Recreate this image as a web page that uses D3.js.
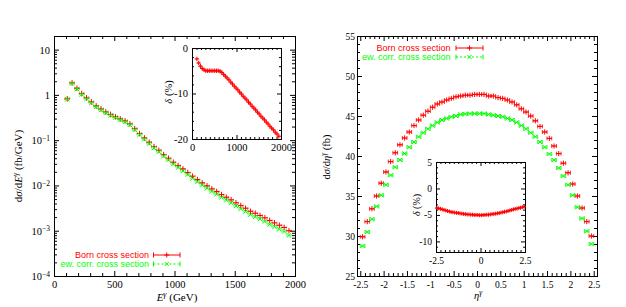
<!DOCTYPE html>
<html>
<head>
<meta charset="utf-8">
<script src="https://cdn.jsdelivr.net/npm/d3@7/dist/d3.min.js"></script>
<style>
html,body{margin:0;padding:0;background:#fff;}
svg{display:block;}
</style>
</head>
<body>
<svg id="chart" width="626" height="307"></svg>
<script>
// ---------------- data ----------------
const energies = [110,150,190,230,270,310,350,390,430,470,510,550,590,630,670,710,750,790,830,870,910,950,990,1030,1070,1110,1150,1190,1230,1270,1310,1350,1390,1430,1470,1510,1550,1590,1630,1670,1710,1750,1790,1830,1870,1910,1950];
const bornE = [0.82,1.84,1.40,1.07,0.86,0.70,0.57,0.49,0.42,0.37,0.33,0.295,0.267,0.229,0.180,0.140,0.112,0.090,0.0722,0.0598,0.0481,0.0398,0.0325,0.0275,0.0232,0.0193,0.0160,0.0135,0.0114,0.00979,0.00841,0.00733,0.00629,0.00549,0.00481,0.00413,0.00360,0.00314,0.00269,0.00243,0.00217,0.00193,0.00168,0.00149,0.00132,0.00118,0.00100];
const ewE = [0.80,1.78,1.344,1.022,0.819,0.665,0.542,0.466,0.399,0.352,0.314,0.280,0.254,0.2175,0.170,0.132,0.105,0.0841,0.0671,0.0553,0.0443,0.0365,0.0296,0.0250,0.0209,0.01735,0.0143,0.0120,0.0101,0.00862,0.00738,0.00639,0.00546,0.00474,0.00413,0.00353,0.00306,0.00266,0.00226,0.00203,0.00181,0.00160,0.00138,0.00122,0.00108,0.00096,0.00079];
const deltaE = [-2.4,-3.3,-4.0,-4.5,-4.8,-5.0,-5.0,-5.0,-5.0,-5.0,-5.0,-5.0,-5.0,-5.1,-5.4,-5.8,-6.2,-6.6,-7.0,-7.5,-7.9,-8.4,-8.8,-9.2,-9.7,-10.1,-10.6,-11.0,-11.4,-11.9,-12.3,-12.8,-13.2,-13.6,-14.1,-14.5,-15.0,-15.4,-15.8,-16.3,-16.7,-17.2,-17.6,-18.0,-18.5,-18.9,-19.4];

const etas = [-2.45,-2.35,-2.25,-2.15,-2.05,-1.95,-1.85,-1.75,-1.65,-1.55,-1.45,-1.35,-1.25,-1.15,-1.05,-0.95,-0.85,-0.75,-0.65,-0.55,-0.45,-0.35,-0.25,-0.15,-0.05,0.05,0.15,0.25,0.35,0.45,0.55,0.65,0.75,0.85,0.95,1.05,1.15,1.25,1.35,1.45,1.55,1.65,1.75,1.85,1.95,2.05,2.15,2.25,2.35,2.45];
const bornEta = [29.9,31.8,33.4,35.0,36.6,38.0,39.3,40.4,41.4,42.25,43.0,43.8,44.5,45.1,45.6,46.1,46.5,46.75,47.0,47.2,47.4,47.5,47.6,47.6,47.7,47.7,47.7,47.5,47.5,47.3,47.2,47.0,46.75,46.4,45.9,45.5,45.0,44.4,43.7,43.0,42.2,41.25,40.3,39.1,37.9,36.5,35.0,33.5,31.8,30.0];
const ewEta = [28.75,30.5,32.1,33.7,35.1,36.4,37.6,38.6,39.5,40.3,41.1,41.75,42.4,42.9,43.4,43.8,44.2,44.5,44.7,44.9,45.0,45.2,45.25,45.3,45.3,45.3,45.3,45.2,45.1,45.0,44.9,44.7,44.5,44.2,43.8,43.4,42.9,42.4,41.75,41.1,40.25,39.5,38.5,37.5,36.4,35.1,33.6,32.2,30.6,29.0];
const deltaEta = [-3.7,-3.75,-3.85,-3.95,-4.05,-4.15,-4.25,-4.35,-4.45,-4.5,-4.55,-4.6,-4.65,-4.7,-4.75,-4.8,-4.85,-4.9,-4.9,-4.95,-4.95,-5.0,-5.0,-5.0,-5.05,-5.05,-5.0,-5.0,-4.95,-4.95,-4.9,-4.85,-4.8,-4.75,-4.7,-4.65,-4.55,-4.5,-4.4,-4.35,-4.25,-4.15,-4.05,-3.95,-3.85,-3.8,-3.7,-3.65,-3.55,-3.45];

const eTicks = [0,500,1000,1500,2000];
const eLogTicks = [1e-4,1e-3,1e-2,1e-1,1,10];
const eInsetXTicks = [0,1000,2000];
const eInsetYTicks = [0,-10,-20];
const etaTicks = [-2.5,-2,-1.5,-1,-0.5,0,0.5,1,1.5,2,2.5];
const etaYTicks = [25,30,35,40,45,50,55];
const etaInsetXTicks = [-2.5,0,2.5];
const etaInsetYTicks = [5,0,-5,-10];
const legendLabels = ["Born cross section","ew. corr. cross section"];
const RED = "#ff0000", GREEN = "#00ff00";

// ---------------- helpers ----------------
const SERIF = "'Liberation Serif','Times New Roman',serif";
const SANS = "'Liberation Sans',Arial,sans-serif";
const svg = d3.select("#chart");

function axis(g, scale, orient, pos, values, size, fmt, pad, fs) {
  const maker = {bottom:d3.axisBottom, top:d3.axisTop, left:d3.axisLeft, right:d3.axisRight}[orient];
  const gen = maker(scale).tickValues(values).tickSizeInner(-size).tickSizeOuter(0)
    .tickPadding(pad || 3).tickFormat(fmt || (() => ""));
  const horiz = orient === "bottom" || orient === "top";
  const a = g.append("g").attr("transform", horiz ? `translate(0,${pos})` : `translate(${pos},0)`).call(gen);
  a.select(".domain").remove();
  a.selectAll("line").attr("stroke", "#000").attr("stroke-width", 1);
  a.selectAll("text").attr("font-family", SERIF).attr("font-size", fs || 10).attr("fill", "#000");
  return a;
}

function frame(g, x, y, o) {
  const [x0, x1] = x.range(), [y0, y1] = y.range();
  return g.append("rect").attr("x", Math.min(x0,x1) + 0.5).attr("y", Math.min(y0,y1) + 0.5)
    .attr("width", Math.abs(x1 - x0)).attr("height", Math.abs(y1 - y0))
    .attr("fill", o && o.fill ? o.fill : "none").attr("stroke", "#000").attr("stroke-width", 1);
}

function fullAxes(g, x, y, o) {
  const [yb, yt] = y.range(), [xl, xr] = x.range();
  axis(g, x, "bottom", yb, o.xMajor, o.maj, o.xFmt, o.xPad, o.fs);
  axis(g, x, "bottom", yb, o.xMinor, o.min);
  axis(g, x, "top", yt, o.xMajor, o.maj);
  axis(g, x, "top", yt, o.xMinor, o.min);
  const yl = axis(g, y, "left", xl, o.yMajor, o.maj, o.yFmt, o.yPad, o.fs);
  axis(g, y, "left", xl, o.yMinor, o.min);
  axis(g, y, "right", xr, o.yMajor, o.maj);
  axis(g, y, "right", xr, o.yMinor, o.min);
  return yl;
}

function series(g, xs, ys, xsc, ysc, hw, color, kind, ms, cap, barOpacity) {
  const pts = xs.map((x, i) => ({x, y: ys[i]}));
  const grp = g.append("g").attr("stroke", color).attr("stroke-width", 1).attr("fill", "none");
  const p = grp.selectAll("g").data(pts).join("g")
    .attr("transform", d => `translate(${xsc(d.x)},${ysc(d.y)})`);
  if (hw > 0) {
    p.append("path").attr("stroke-opacity", barOpacity).attr("d", d => {
      const a = xsc(d.x - hw) - xsc(d.x), b = xsc(d.x + hw) - xsc(d.x);
      return `M${a},0H${b}M${a},${-cap}V${cap}M${b},${-cap}V${cap}`;
    });
  }
  if (kind === "plus") p.append("path").attr("d", `M${-ms},0H${ms}M0,${-ms}V${ms}`);
  else p.append("path").attr("d", `M${-ms},${-ms}L${ms},${ms}M${-ms},${ms}L${ms},${-ms}`);
}

function legend(g, xText, x0, x1, yy) {
  const rows = [{t: legendLabels[0], c: RED, k: "plus", dash: null},
                {t: legendLabels[1], c: GREEN, k: "cross", dash: "2,2"}];
  rows.forEach((r, i) => {
    const y = yy[i];
    g.append("text").attr("x", xText).attr("y", y).attr("dy", "0.35em").attr("text-anchor", "end")
      .attr("font-family", SANS).attr("font-size", 9).attr("fill", r.c).text(r.t);
    const s = g.append("g").attr("stroke", r.c).attr("stroke-width", 1).attr("fill", "none");
    s.append("line").attr("x1", x0).attr("x2", x1).attr("y1", y).attr("y2", y).attr("stroke-dasharray", r.dash);
    s.append("path").attr("d", `M${x0},${y-2.5}V${y+2.5}M${x1},${y-2.5}V${y+2.5}`);
    const cx = (x0 + x1) / 2;
    if (r.k === "plus") s.append("path").attr("d", `M${cx-2.5},${y}H${cx+2.5}M${cx},${y-2.5}V${y+2.5}`);
    else s.append("path").attr("d", `M${cx-2},${y-2}L${cx+2},${y+2}M${cx-2},${y+2}L${cx+2},${y-2}`);
  });
}

const num = d => String(d);

// ---------------- left panel ----------------
const L = svg.append("g");
const xL = d3.scaleLinear([0, 2000], [54, 295]);
const yL = d3.scaleLog([1e-4, 20], [276, 36]);
const logMinor = d3.range(-4, 2).flatMap(e => d3.range(2, 10).map(k => +(k * Math.pow(10, e)).toPrecision(3))).filter(v => v <= 20);
frame(L, xL, yL);
const ylAx = fullAxes(L, xL, yL, {
  xMajor: eTicks, xMinor: d3.range(0, 2001, 100).filter(v => v % 500),
  yMajor: eLogTicks, yMinor: logMinor, maj: 5, min: 3,
  xFmt: num, xPad: 5, yFmt: d => d, yPad: 4, fs: 10.5
});
ylAx.selectAll(".tick text").each(function(d) {
  const t = d3.select(this).text("");
  const e = Math.round(Math.log10(d));
  if (e === 0) { t.text("1"); return; }
  if (e === 1) { t.text("10"); return; }
  t.append("tspan").text("10");
  t.append("tspan").attr("dy", "-0.45em").attr("font-size", 7.5).text("\u2212" + Math.abs(e));
});

const LD = L.append("g");
series(LD, energies, bornE, xL, yL, 20, RED, "plus", 2.8, 1.2, 0.4);
series(LD, energies, ewE, xL, yL, 20, GREEN, "cross", 2.2, 1.2, 0.4);

legend(L, 149, 153.5, 180, [255, 264]);

L.append("text").attr("transform", "translate(22,166) rotate(-90)").attr("text-anchor", "middle")
  .attr("font-family", SERIF).attr("font-size", 11).attr("fill", "#000")
  .html('d<tspan font-style="italic">σ</tspan>/d<tspan font-style="italic">E</tspan><tspan font-style="italic" font-size="8" dy="-4">γ</tspan><tspan dy="4"> (fb/GeV)</tspan>');
L.append("text").attr("x", 177).attr("y", 301).attr("text-anchor", "middle")
  .attr("font-family", SERIF).attr("font-size", 11).attr("fill", "#000")
  .html('<tspan font-style="italic">E</tspan><tspan font-style="italic" font-size="8" dy="-4">γ</tspan><tspan dy="4">  (GeV)</tspan>');

// left inset
const LI = svg.append("g");
const xLI = d3.scaleLinear([0, 2000], [192, 281]);
const yLI = d3.scaleLinear([-20, 0], [139, 48]);
frame(LI, xLI, yLI, {fill: "#fff"});
fullAxes(LI, xLI, yLI, {
  xMajor: eInsetXTicks, xMinor: d3.range(0, 2001, 100).filter(v => v % 1000),
  yMajor: eInsetYTicks, yMinor: d3.range(-20, 1, 2).filter(v => v % 10),
  maj: 4, min: 2, xFmt: num, xPad: 5, yFmt: num, yPad: 4, fs: 10.5
});
series(LI.append("g"), energies, deltaE, xLI, yLI, 20, RED, "plus", 2.2, 1.2, 0.4);
LI.append("text").attr("transform", "translate(172,92) rotate(-90)").attr("text-anchor", "middle")
  .attr("font-family", SERIF).attr("font-size", 10.5).attr("fill", "#000")
  .html('<tspan font-style="italic">δ</tspan> (%)');

// ---------------- right panel ----------------
const R = svg.append("g");
const xR = d3.scaleLinear([-2.57, 2.57], [357, 597]);
const yR = d3.scaleLinear([25, 55], [276, 36]);
frame(R, xR, yR);
fullAxes(R, xR, yR, {
  xMajor: etaTicks, xMinor: d3.range(-25, 26, 1).filter(v => v % 5).map(v => v / 10),
  yMajor: etaYTicks, yMinor: d3.range(25, 56, 1).filter(v => v % 5),
  maj: 5, min: 3, xFmt: num, xPad: 5, yFmt: num, yPad: 2, fs: 9.5
});
const RD = R.append("g");
series(RD, etas, bornEta, xR, yR, 0.05, RED, "plus", 2.6, 2.0, 0.8);
series(RD, etas, ewEta, xR, yR, 0.05, GREEN, "cross", 2.0, 2.0, 0.8);
legend(R, 450.5, 456, 483, [48, 57]);

R.append("text").attr("transform", "translate(330,157) rotate(-90)").attr("text-anchor", "middle")
  .attr("font-family", SERIF).attr("font-size", 10.5).attr("fill", "#000")
  .html('d<tspan font-style="italic">σ</tspan>/d<tspan font-style="italic">η</tspan><tspan font-style="italic" font-size="7.5" dy="-4">γ</tspan><tspan dy="4"> (fb)</tspan>');
R.append("text").attr("x", 478).attr("y", 299).attr("text-anchor", "middle")
  .attr("font-family", SERIF).attr("font-size", 10.5).attr("fill", "#000")
  .html('<tspan font-style="italic">η</tspan><tspan font-style="italic" font-size="7.5" dy="-4">γ</tspan>');

// right inset
const RI = svg.append("g");
const xRI = d3.scaleLinear([-2.5, 2.5], [436, 525]);
const yRI = d3.scaleLinear([-12, 5], [252, 162]);
frame(RI, xRI, yRI, {fill: "#fff"});
fullAxes(RI, xRI, yRI, {
  xMajor: etaInsetXTicks, xMinor: d3.range(-10, 11, 1).filter(v => v % 10).map(v => v / 4),
  yMajor: etaInsetYTicks, yMinor: d3.range(-12, 6, 1).filter(v => v % 5),
  maj: 4, min: 2, xFmt: num, xPad: 5, yFmt: num, yPad: 4, fs: 9.5
});
series(RI.append("g"), etas, deltaEta, xRI, yRI, 0.05, RED, "plus", 2.0, 1.0, 0.4);
RI.append("text").attr("transform", "translate(420,205) rotate(-90)").attr("text-anchor", "middle")
  .attr("font-family", SERIF).attr("font-size", 10).attr("fill", "#000")
  .html('<tspan font-style="italic">δ</tspan> (%)');
</script>
</body>
</html>
